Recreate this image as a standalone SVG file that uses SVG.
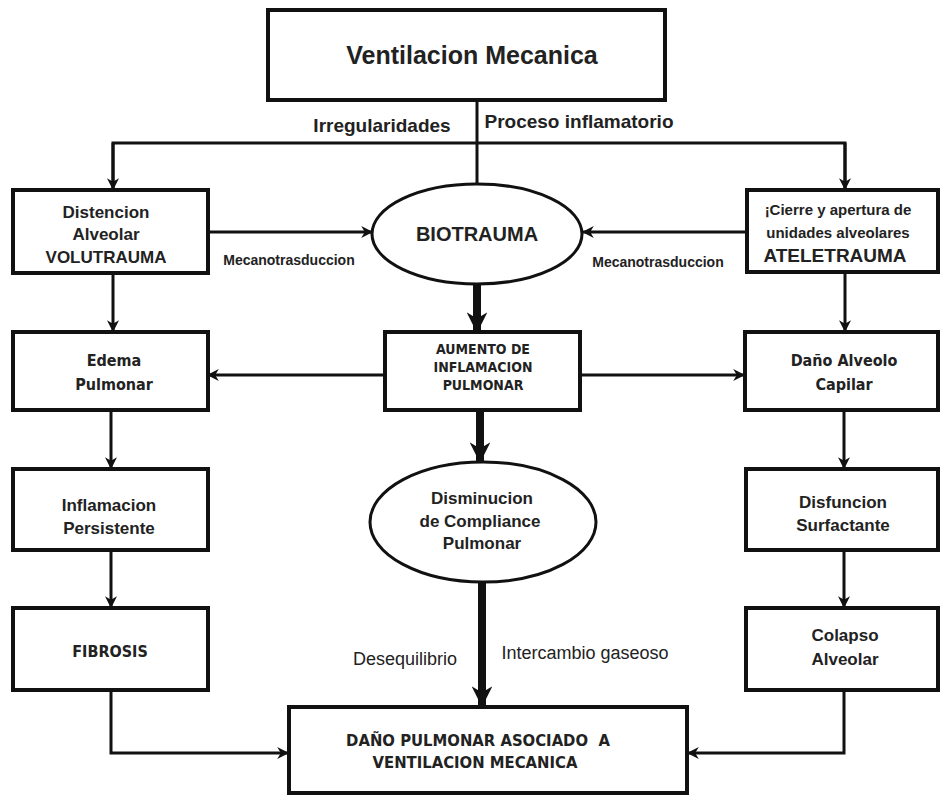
<svg xmlns="http://www.w3.org/2000/svg" width="943" height="795" viewBox="0 0 943 795">
<defs>
<marker id="ah" viewBox="0 0 10 10" refX="9" refY="5" markerWidth="4" markerHeight="4" orient="auto" markerUnits="strokeWidth"><path d="M0,0 L10,5 L0,10 L3,5 z" fill="#111"/></marker>
<marker id="ahb" viewBox="0 0 10 10" refX="9" refY="5" markerWidth="2.6" markerHeight="2.6" orient="auto" markerUnits="strokeWidth"><path d="M0,0 L10,5 L0,10 L3,5 z" fill="#111"/></marker>
</defs>
<style>
.box{fill:#fff;stroke:#111;stroke-width:4}
.ell{fill:#fff;stroke:#111;stroke-width:3}
.ln{fill:none;stroke:#111;stroke-width:3}
.thk{fill:none;stroke:#111;stroke-width:8}
text{font-family:"Liberation Sans",Arial,sans-serif;fill:#222;text-anchor:middle}
.b{font-weight:bold;font-size:17px}
.n{font-family:"DejaVu Sans Condensed","Liberation Sans",Arial,sans-serif;font-weight:bold;font-size:16px}
.s{font-weight:bold;font-size:14px}
.r{font-size:18px}
</style>
<rect width="943" height="795" fill="#fff"/>
<g id="connectors">
<line class="ln" x1="477" y1="100" x2="477" y2="184"/>
<polyline class="ln" points="113,188 113,143 845,143 845,188"/>
<line class="ln" x1="113" y1="143" x2="113" y2="189" marker-end="url(#ah)"/>
<line class="ln" x1="845" y1="143" x2="845" y2="189" marker-end="url(#ah)"/>
<line class="ln" x1="208" y1="232" x2="372" y2="232" marker-end="url(#ah)"/>
<line class="ln" x1="747" y1="232" x2="583" y2="232" marker-end="url(#ah)"/>
<line class="thk" x1="477" y1="285" x2="477" y2="331" marker-end="url(#ahb)"/>
<line class="ln" x1="113" y1="273" x2="113" y2="331" marker-end="url(#ah)"/>
<line class="ln" x1="845" y1="272" x2="845" y2="331" marker-end="url(#ah)"/>
<line class="ln" x1="385" y1="375" x2="208" y2="375" marker-end="url(#ah)"/>
<line class="ln" x1="580" y1="375" x2="744" y2="375" marker-end="url(#ah)"/>
<line class="thk" x1="480" y1="410" x2="480" y2="461" marker-end="url(#ahb)"/>
<line class="ln" x1="111" y1="410" x2="111" y2="468" marker-end="url(#ah)"/>
<line class="ln" x1="844" y1="410" x2="844" y2="468" marker-end="url(#ah)"/>
<line class="ln" x1="111" y1="550" x2="111" y2="607" marker-end="url(#ah)"/>
<line class="ln" x1="844" y1="550" x2="844" y2="607" marker-end="url(#ah)"/>
<line class="thk" x1="482" y1="582" x2="482" y2="705" marker-end="url(#ahb)"/>
<polyline class="ln" points="111,690 111,753 288,753" marker-end="url(#ah)"/>
<polyline class="ln" points="844,690 844,753 688,753" marker-end="url(#ah)"/>
</g>
<g id="labels">
<text x="382" y="132" font-size="19" font-weight="bold">Irregularidades</text>
<text x="579" y="128" font-size="19" font-weight="bold">Proceso inflamatorio</text>
<text class="s" x="289" y="265">Mecanotrasduccion</text>
<text class="s" x="658" y="267">Mecanotrasduccion</text>
<text class="r" x="405" y="665">Desequilibrio</text>
<text class="r" x="585" y="659">Intercambio gaseoso</text>
</g>
<g id="n-ventilacion">
<rect class="box" x="268" y="10" width="397" height="90"/>
<text x="472" y="64" font-size="25" font-weight="bold">Ventilacion Mecanica</text>
</g>
<g id="n-volutrauma">
<rect class="box" x="13" y="190" width="195" height="83"/>
<text class="b" x="106" y="218">Distencion</text>
<text class="b" x="106" y="240">Alveolar</text>
<text class="b" x="106" y="263">VOLUTRAUMA</text>
</g>
<g id="n-biotrauma">
<ellipse class="ell" cx="477" cy="234" rx="105" ry="50"/>
<text x="477" y="241" font-size="20" font-weight="bold" fill="#333">BIOTRAUMA</text>
</g>
<g id="n-ateletrauma">
<rect class="box" x="747" y="190" width="191" height="82"/>
<text x="838" y="215" font-size="15" font-weight="bold">¡Cierre y apertura de</text>
<text x="838" y="238" font-size="15" font-weight="bold">unidades alveolares</text>
<text x="835" y="262" font-size="19" font-weight="bold">ATELETRAUMA</text>
</g>
<g id="n-edema">
<rect class="box" x="13" y="332" width="195" height="78"/>
<text class="n" x="114" y="366">Edema</text>
<text class="n" x="114" y="390">Pulmonar</text>
</g>
<g id="n-aumento">
<rect class="box" x="385" y="332" width="195" height="78"/>
<text class="n" x="483" y="354" style="font-size:14px">AUMENTO DE</text>
<text class="n" x="483" y="372" style="font-size:14px">INFLAMACION</text>
<text class="n" x="483" y="390" style="font-size:14px">PULMONAR</text>
</g>
<g id="n-dano-alveolo">
<rect class="box" x="745" y="332" width="193" height="78"/>
<text class="n" x="844" y="366">Daño Alveolo</text>
<text class="n" x="844" y="390">Capilar</text>
</g>
<g id="n-inflamacion">
<rect class="box" x="13" y="469" width="195" height="81"/>
<text class="b" x="109" y="511">Inflamacion</text>
<text class="b" x="109" y="534">Persistente</text>
</g>
<g id="n-disminucion">
<ellipse class="ell" cx="483" cy="522" rx="113" ry="60"/>
<text class="b" x="482" y="504">Disminucion</text>
<text class="b" x="480" y="527">de Compliance</text>
<text class="b" x="482" y="549">Pulmonar</text>
</g>
<g id="n-disfuncion">
<rect class="box" x="746" y="469" width="192" height="81"/>
<text class="b" x="843" y="508">Disfuncion</text>
<text class="b" x="843" y="531">Surfactante</text>
</g>
<g id="n-fibrosis">
<rect class="box" x="13" y="608" width="195" height="82"/>
<text class="n" x="110" y="657">FIBROSIS</text>
</g>
<g id="n-colapso">
<rect class="box" x="746" y="608" width="192" height="82"/>
<text class="b" x="845" y="641">Colapso</text>
<text class="b" x="845" y="665">Alveolar</text>
</g>
<g id="n-dano-pulmonar">
<rect class="box" x="289" y="707" width="398" height="86"/>
<text class="n" x="478" y="746" style="font-size:16.5px" xml:space="preserve">DAÑO PULMONAR ASOCIADO  A</text>
<text class="n" x="475" y="768" style="font-size:16.5px">VENTILACION MECANICA</text>
</g>
</svg>
